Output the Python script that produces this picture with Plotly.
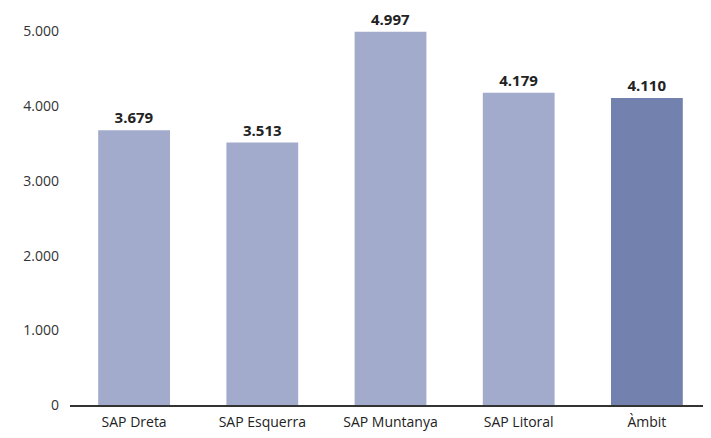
import plotly.graph_objects as go

categories = ["SAP Dreta", "SAP Esquerra", "SAP Muntanya", "SAP Litoral", "Àmbit"]
values = [3679, 3513, 4997, 4179, 4110]
bar_colors = ["#A2ABCC", "#A2ABCC", "#A2ABCC", "#A2ABCC", "#7281AE"]
tick_vals = [0, 1000, 2000, 3000, 4000, 5000]

fig = go.Figure(go.Bar(
    x=categories,
    y=values,
    marker=dict(color=bar_colors, line=dict(width=0)),
    texttemplate="<b>%{y:,.0f}</b>",
    textposition="outside",
    textfont=dict(family="Open Sans", size=15, color="#222222"),
    cliponaxis=False,
))

# page body has an 8px default margin, so the figure is sized to fit the window
fig.update_layout(
    width=703, height=430,
    margin=dict(l=62, r=0, t=0, b=33),
    paper_bgcolor="white",
    plot_bgcolor="white",
    separators=",.",
    bargap=0.44,
    showlegend=False,
    font=dict(family="Open Sans", color="#333333"),
    xaxis=dict(
        showline=True, linecolor="#333333", linewidth=2,
        showgrid=False, ticks="", ticklabelstandoff=3,
        tickfont=dict(family="Open Sans", size=14, color="#222222"),
    ),
    yaxis=dict(
        range=[0, 5315],
        tickvals=tick_vals,
        tickformat=",.0f",
        showgrid=False, zeroline=False, showline=False,
        ticks="", ticklabelstandoff=10,
        tickfont=dict(family="Open Sans", size=14, color="#333333"),
    ),
)

fig.write_html("out.html")
